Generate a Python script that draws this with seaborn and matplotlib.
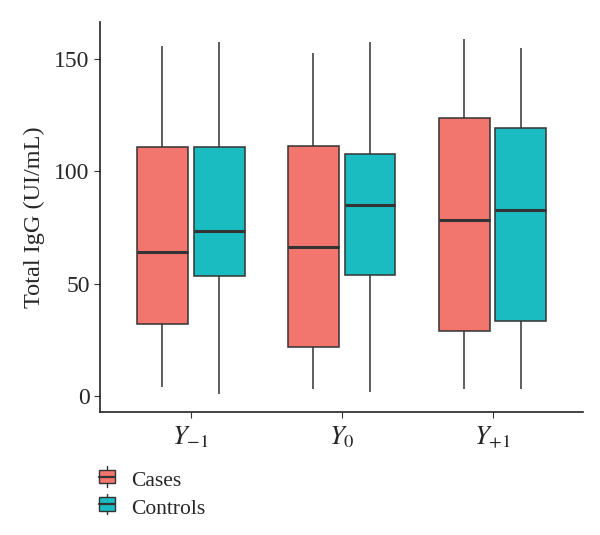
import pandas as pd
import matplotlib.pyplot as plt
import seaborn as sns
from matplotlib.legend_handler import HandlerBase
from matplotlib.patches import Rectangle
from matplotlib.lines import Line2D

# five-number summaries: min, Q1, median, Q3, max
anos = ['$Y_{-1}$', '$Y_0$', '$Y_{+1}$']
grupos = ['Cases', 'Controls']
cases = [
    [4.0, 32.1, 64.0, 110.9, 155.9],
    [3.0, 21.9, 66.4, 111.2, 152.8],
    [3.0, 28.7, 78.4, 124.0, 158.9],
]
controls = [
    [0.7, 53.6, 73.4, 110.8, 157.8],
    [1.8, 53.8, 85.1, 107.8, 157.8],
    [3.0, 33.3, 82.8, 119.4, 154.9],
]
cores = ['#F3766E', '#1ABCC1']

linhas = []
for i, ano in enumerate(anos):
    for g, vals in zip(grupos, [cases[i], controls[i]]):
        for v in vals:
            linhas.append({'Ano': ano, 'Grupo': g, 'IgG': v})
df = pd.DataFrame(linhas)


# small boxplot glyph for the legend keys
class BoxKey(HandlerBase):
    def create_artists(self, legend, orig, xd, yd, w, h, fontsize, trans):
        cor = orig.get_facecolor()
        cx = xd + w / 2
        linha = Line2D([cx, cx], [yd - 0.1 * h, yd + 1.1 * h], color='#333333',
                       lw=1.0, transform=trans)
        caixa = Rectangle((xd, yd + 0.1 * h), w, 0.8 * h, facecolor=cor,
                          edgecolor='#333333', lw=1.0, transform=trans)
        med = Line2D([xd, xd + w], [yd + h / 2, yd + h / 2], color='#333333',
                     lw=1.6, transform=trans)
        return [linha, caixa, med]


sns.set_style('white')
plt.rcParams['font.family'] = ['Liberation Serif', 'DejaVu Serif']
plt.rcParams['mathtext.fontset'] = 'stix'

fig = plt.figure(figsize=(6, 5.35), dpi=100)
ax = fig.add_axes([0.167, 0.230, 0.805, 0.729])

sns.boxplot(data=df, x='Ano', y='IgG', hue='Grupo', whis=(0, 100),
            palette=cores, width=0.75, gap=0.1, showcaps=False,
            linecolor='#333333', linewidth=1.1, saturation=1,
            medianprops={'linewidth': 2.2}, ax=ax)

ax.set_ylim(-7.2, 166.6)
ax.set_xlim(-0.6, 2.6)
ax.set_yticks([0, 50, 100, 150])
ax.set_xlabel('')
ax.set_ylabel('Total IgG (UI/mL)', fontsize=17.5, labelpad=7)
ax.tick_params(axis='both', labelsize=17, length=4, color='#333333',
               direction='out', bottom=True, left=True)
ax.tick_params(axis='x', labelsize=19, pad=5)
sns.despine(ax=ax)
for s in ['left', 'bottom']:
    ax.spines[s].set_color('#222222')
    ax.spines[s].set_linewidth(1.2)

h, l = ax.get_legend_handles_labels()
ax.get_legend().remove()
fig.legend(h, l, loc='lower left', bbox_to_anchor=(0.133, -0.006), frameon=False,
           fontsize=15.5, handlelength=0.75, handleheight=0.85, labelspacing=0.3,
           handletextpad=0.75, handler_map={Rectangle: BoxKey()})

plt.savefig('out.png', dpi=100)
